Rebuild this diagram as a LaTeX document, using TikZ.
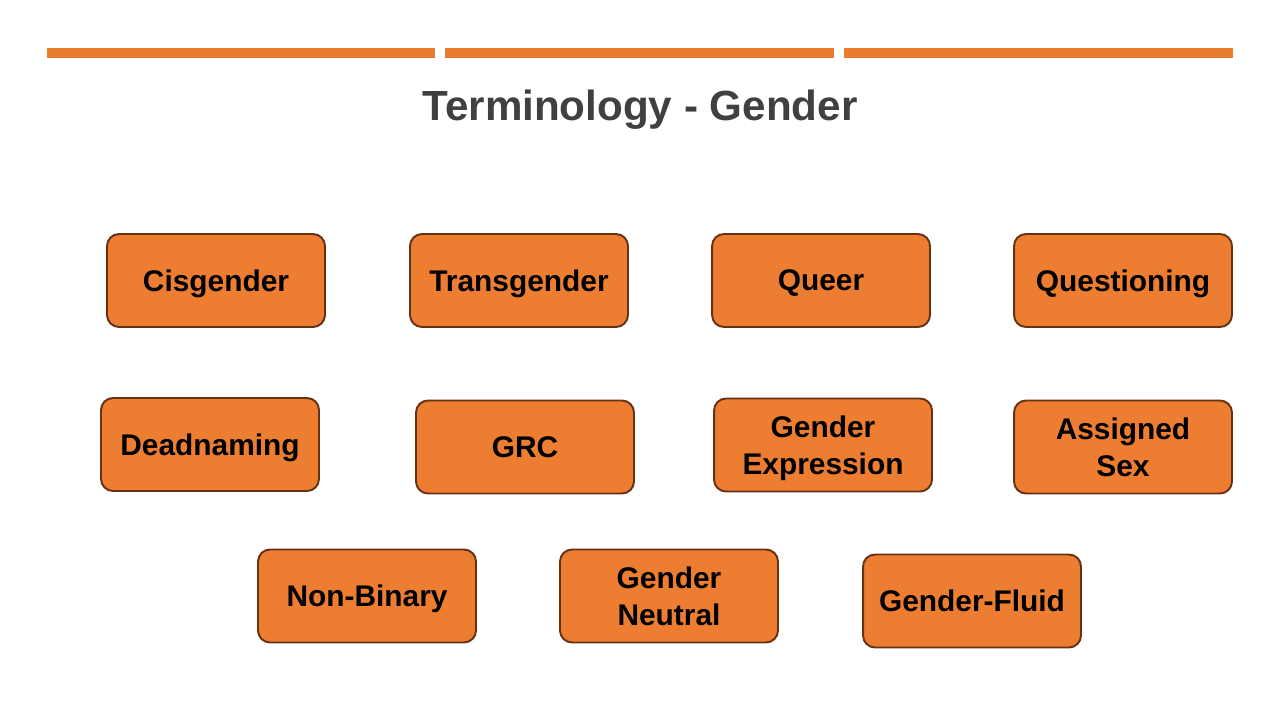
\documentclass[tikz,border=0pt]{standalone}
\usepackage{fontspec}
\setmainfont{Liberation Sans}
\usepackage{xcolor}
\usetikzlibrary{positioning}
\definecolor{BarOrange}{RGB}{232,125,46}
\definecolor{BoxOrange}{RGB}{237,125,49}
\definecolor{BoxEdge}{RGB}{102,50,20}
\definecolor{TitleGray}{RGB}{64,64,64}

\tikzset{
	term/.style={draw=BoxEdge, fill=BoxOrange, line width=1.1pt, rounded corners=0.24cm,
		minimum width=4.36cm, minimum height=1.86cm, align=center, inner sep=2pt, text depth=0pt,
		font=\fontsize{17}{21}\selectfont\bfseries, text=black},
	bar/.style={fill=BarOrange, draw=none}
}

\begin{document}
\begin{tikzpicture}[x=0.02cm, y=-0.02cm]
		\useasboundingbox[fill=white] (0,0) rectangle (1280,720);
		% top bars
		\fill[BarOrange] (47,48) rectangle (435,58);
		\fill[BarOrange] (445,48) rectangle (834,58);
		\fill[BarOrange] (844,48) rectangle (1233,58);
		\node[font=\fontsize{24}{28}\selectfont\bfseries, text=TitleGray] (title) at (640,110) {Terminology - Gender};
		% first row
		\node[term] (cis) at (216,280.5) {Cisgender};
		\node[term] (trans) at (519,280.5) {Transgender};
		\node[term] (queer) at (821,280.5) {Queer};
		\node[term] (quest) at (1123,280.5) {Questioning};
		% second row
		\node[term] (dead) at (210,444.5) {Deadnaming};
		\node[term] (grc) at (525,447) {GRC};
		\node[term] (expr) at (823,445) {Gender\\Expression};
		\node[term] (sex) at (1123,447) {Assigned\\Sex};
		% third row
		\node[term] (nonbin) at (367,596) {Non-Binary};
		\node[term] (neutral) at (669,596) {Gender\\Neutral};
		\node[term] (fluid) at (972,601) {Gender-Fluid};
	\end{tikzpicture}
\end{document}
